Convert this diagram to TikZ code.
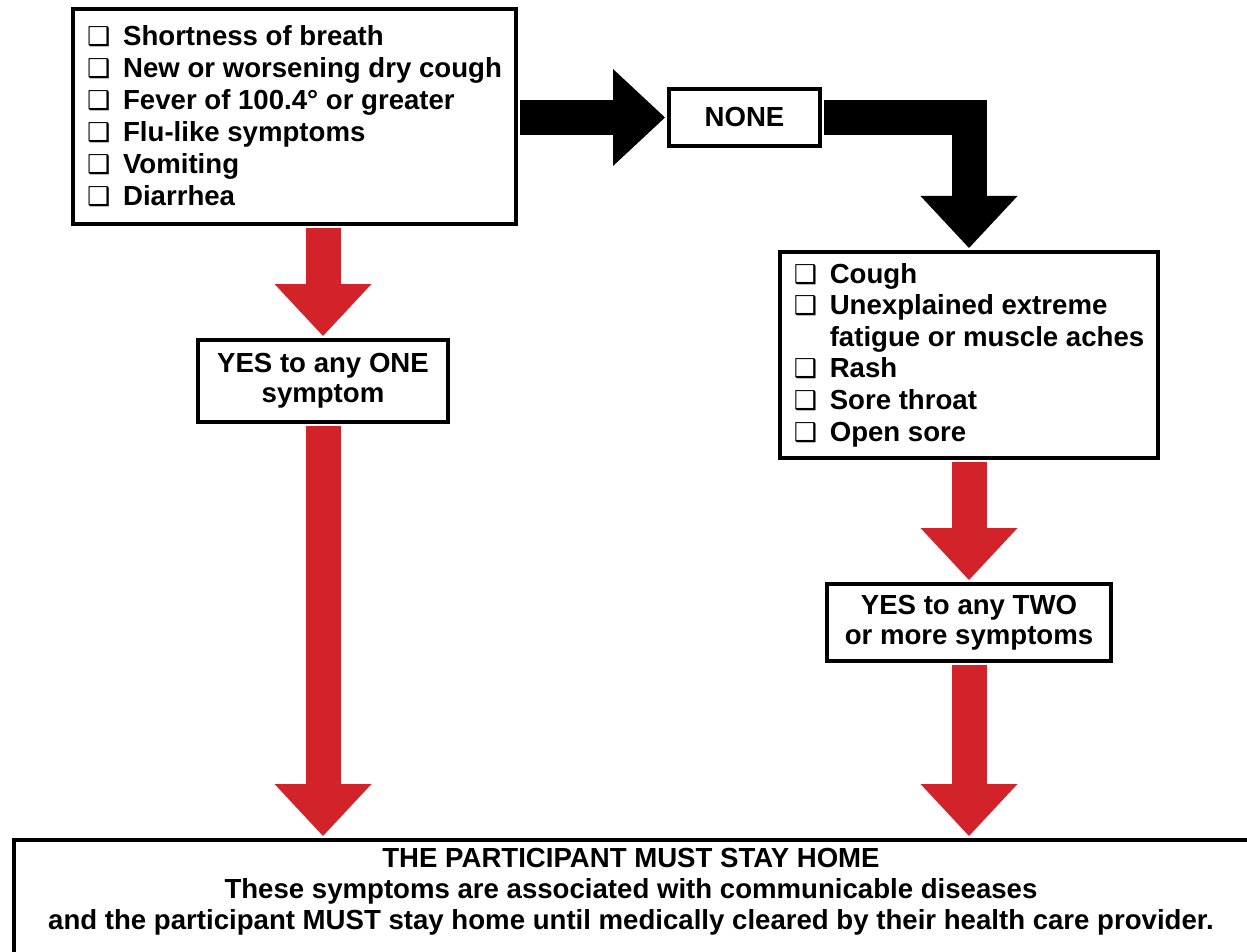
\documentclass[tikz,border=0pt]{standalone}
\usepackage{fontspec}
\setmainfont{Liberation Sans}
\newfontfamily\boxfont{DejaVu Sans}
\usetikzlibrary{arrows.meta}
\definecolor{stopred}{RGB}{210,35,42}
\newcommand{\tick}{\makebox[36pt][l]{\boxfont\fontsize{26}{26}\selectfont ❑}}

\begin{document}
\begin{tikzpicture}[x=1pt, y=-1pt, font=\bfseries\fontsize{27.6}{32}\selectfont, line join=miter,
    box/.style={draw, line width=4pt, inner sep=0pt},
    bigtip/.style={-{Triangle[width=97pt,length=52pt,line width=0pt]}, line width=35pt, shorten <=2pt, shorten >=2pt},
    redarrow/.style={bigtip, draw=stopred},
    blackarrow/.style={bigtip, draw=black}]
    \useasboundingbox (0,0) rectangle (1247,952);

    \node[box, minimum width=443pt, minimum height=215pt, align=left] (first) at (294.5,116.5)
        {\tick Shortness of breath\\ \tick New or worsening dry cough\\ \tick Fever of 100.4° or greater\\
         \tick Flu-like symptoms\\ \tick Vomiting\\ \tick Diarrhea};
    \node[box, minimum width=151pt, minimum height=57pt] (none) at (744.5,117.5) {NONE};
    \node[box, minimum width=378pt, minimum height=206pt, align=left, font=\bfseries\fontsize{27.6}{31.6}\selectfont] (second) at (969,355)
        {\tick Cough\\ \tick Unexplained extreme\\ \makebox[36pt]{}fatigue or muscle aches\\
         \tick Rash\\ \tick Sore throat\\ \tick Open sore};
    \node[box, minimum width=250pt, minimum height=82pt, align=center, font=\bfseries\fontsize{27.6}{30}\selectfont] (yesone) at (323,381)
        {YES to any ONE\\ symptom};
    \node[box, minimum width=284pt, minimum height=77pt, align=center, font=\bfseries\fontsize{27.6}{30}\selectfont] (yestwo) at (969,622.5)
        {YES to any TWO\\ or more symptoms};
    \node[box, anchor=north west, minimum width=1250pt, minimum height=150pt] (home) at (12,838) {};
    \node[align=center, font=\bfseries\fontsize{27.6}{31}\selectfont] (homemsg) at (631,892)
        {THE PARTICIPANT MUST STAY HOME\\ These symptoms are associated with communicable diseases\\
         and the participant MUST stay home until medically cleared by their health care provider.};

    \draw[blackarrow] (first.east |- none.west) -- (none.west);
    \draw[blackarrow] (none.east) -| (second.north);
    \draw[redarrow] (yesone.north |- first.south) -- (yesone.north);
    \draw[redarrow] (yesone.south) -- (yesone.south |- home.north);
    \draw[redarrow] (second.south) -- (yestwo.north);
    \draw[redarrow] (yestwo.south) -- (yestwo.south |- home.north);
\end{tikzpicture}
\end{document}
